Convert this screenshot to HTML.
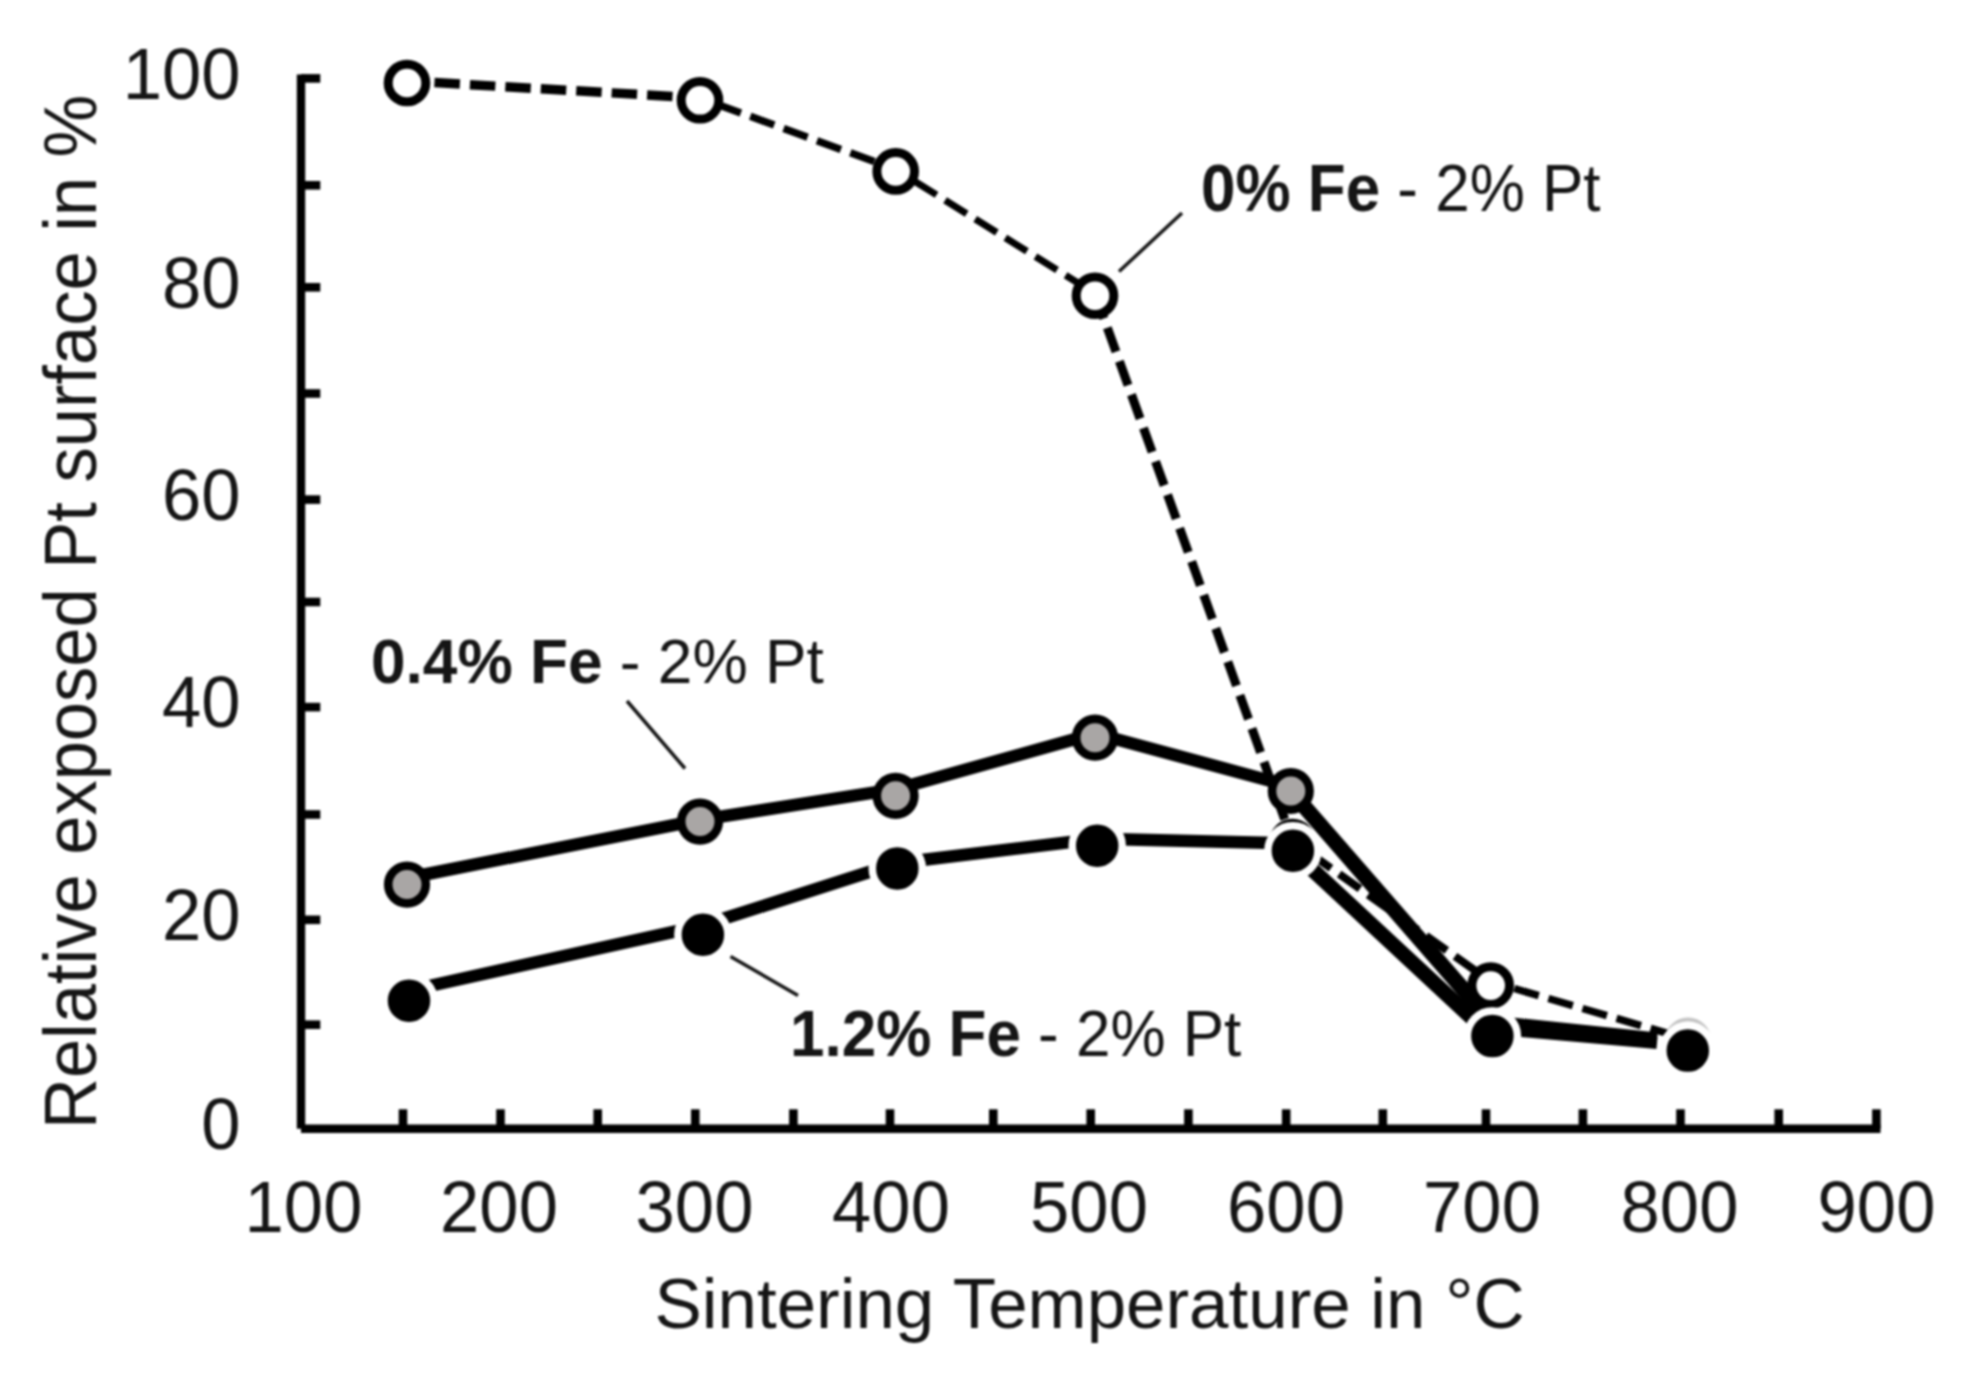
<!DOCTYPE html>
<html lang="en"><head><meta charset="utf-8"><title>Relative exposed Pt surface vs sintering temperature</title>
<style>
html,body{margin:0;padding:0;background:#fff;}
body{width:1961px;height:1374px;overflow:hidden;}
svg{display:block;filter:blur(1px);}
text{font-family:"Liberation Sans",Arial,Helvetica,sans-serif;fill:#151515;}
</style></head><body>
<svg width="1961" height="1374" viewBox="0 0 1961 1374">
<rect width="1961" height="1374" fill="#fff"/>
<g>
<g stroke="#000" stroke-width="8.4" fill="none" stroke-linecap="butt">
<path d="M301.0,74.4 V1128.8"/>
<path d="M301.0,1128.8 H1880.5"/>
</g>
<g stroke="#000" stroke-width="8.6" fill="none" stroke-linecap="butt">
<path d="M301.0,78.4 H320.3"/>
<path d="M301.0,185.3 H320.3"/>
<path d="M301.0,287.3 H320.3"/>
<path d="M301.0,393.5 H320.3"/>
<path d="M301.0,499.6 H320.3"/>
<path d="M301.0,602.0 H320.3"/>
<path d="M301.0,707.1 H320.3"/>
<path d="M301.0,814.5 H320.3"/>
<path d="M301.0,919.8 H320.3"/>
<path d="M301.0,1024.7 H320.3"/>
<path d="M403.0,1128.8 V1109.3"/>
<path d="M500.5,1128.8 V1109.3"/>
<path d="M597.7,1128.8 V1109.3"/>
<path d="M695.3,1128.8 V1109.3"/>
<path d="M793.4,1128.8 V1109.3"/>
<path d="M890.0,1128.8 V1109.3"/>
<path d="M993.3,1128.8 V1109.3"/>
<path d="M1090.7,1128.8 V1109.3"/>
<path d="M1188.4,1128.8 V1109.3"/>
<path d="M1286.2,1128.8 V1109.3"/>
<path d="M1382.8,1128.8 V1109.3"/>
<path d="M1486.0,1128.8 V1109.3"/>
<path d="M1582.9,1128.8 V1109.3"/>
<path d="M1680.5,1128.8 V1109.3"/>
<path d="M1778.7,1128.8 V1109.3"/>
<path d="M1876.4,1128.8 V1109.3"/>
</g>
<g font-size="70.6" text-anchor="end">
<text transform="translate(240.5,98.7) scale(1,1.03)">100</text>
<text transform="translate(240.5,307.6) scale(1,1.03)">80</text>
<text transform="translate(240.5,519.9) scale(1,1.03)">60</text>
<text transform="translate(240.5,727.4) scale(1,1.03)">40</text>
<text transform="translate(240.5,940.1) scale(1,1.03)">20</text>
<text transform="translate(240.5,1149.1) scale(1,1.03)">0</text>
</g>
<g font-size="70.6" text-anchor="middle">
<text transform="translate(303.5,1231.5) scale(1,1.03)">100</text>
<text transform="translate(499.0,1231.5) scale(1,1.03)">200</text>
<text transform="translate(694.5,1231.5) scale(1,1.03)">300</text>
<text transform="translate(891.0,1231.5) scale(1,1.03)">400</text>
<text transform="translate(1089.0,1231.5) scale(1,1.03)">500</text>
<text transform="translate(1286.0,1231.5) scale(1,1.03)">600</text>
<text transform="translate(1482.0,1231.5) scale(1,1.03)">700</text>
<text transform="translate(1679.5,1231.5) scale(1,1.03)">800</text>
<text transform="translate(1876.5,1231.5) scale(1,1.03)">900</text>
</g>
<text font-size="70.9" x="654.5" y="1328">Sintering Temperature in °C</text>
<text font-size="70.5" transform="translate(95.5,1129) rotate(-90) scale(1,1.05)">Relative exposed Pt surface in %</text>
<path d="M407.0,81.0 L700.0,98.0" fill="none" stroke="#000" stroke-width="9.5" stroke-dasharray="25.5 10" stroke-dashoffset="8.00"/>
<path d="M700.0,98.0 L895.7,169.4" fill="none" stroke="#000" stroke-width="7.5" stroke-dasharray="25.5 10" stroke-dashoffset="17.49"/>
<path d="M895.7,169.4 L1095.0,293.7" fill="none" stroke="#000" stroke-width="7" stroke-dasharray="25.5 10" stroke-dashoffset="12.81"/>
<path d="M1095.0,293.7 L1292.5,841.0" fill="none" stroke="#000" stroke-width="9" stroke-dasharray="25.5 10" stroke-dashoffset="34.70"/>
<path d="M1292.5,841.0 L1490.7,981.6" fill="none" stroke="#000" stroke-width="8" stroke-dasharray="25.5 10" stroke-dashoffset="13.80"/>
<path d="M1490.7,981.6 L1687.6,1039.3" fill="none" stroke="#000" stroke-width="7.5" stroke-dasharray="25.5 10" stroke-dashoffset="10.90"/>
<circle cx="407" cy="83" r="18.8" fill="#fff" stroke="#000" stroke-width="9"/>
<circle cx="700" cy="100.3" r="18.8" fill="#fff" stroke="#000" stroke-width="9"/>
<circle cx="895.7" cy="171.4" r="18.8" fill="#fff" stroke="#000" stroke-width="9"/>
<circle cx="1095" cy="295.7" r="18.8" fill="#fff" stroke="#000" stroke-width="9"/>
<circle cx="1292.5" cy="842" r="18.8" fill="#fff" stroke="#000" stroke-width="9"/>
<circle cx="1490.7" cy="985.6" r="18.8" fill="#fff" stroke="#000" stroke-width="9"/>
<polyline points="407.0,878.0 700.0,819.8 895.6,789.2 1095.0,733.5 1290.8,786.4" fill="none" stroke="#000" stroke-width="12.5" stroke-linejoin="round"/>
<polyline points="1290.8,791.0 1492.0,1022.4" fill="none" stroke="#000" stroke-width="15.5"/>
<polyline points="1492.0,1021.6 1657.0,1038.8" fill="none" stroke="#000" stroke-width="12.5"/>
<circle cx="1688" cy="1041" r="21.5" fill="none" stroke="#c4c4c4" stroke-width="4"/>
<circle cx="407" cy="884.6" r="18.8" fill="#a9a6a5" stroke="#000" stroke-width="8.6"/>
<circle cx="700" cy="821.6" r="18.8" fill="#a9a6a5" stroke="#000" stroke-width="8.6"/>
<circle cx="895.6" cy="795.8" r="18.8" fill="#a9a6a5" stroke="#000" stroke-width="8.6"/>
<circle cx="1095" cy="737.7" r="18.8" fill="#a9a6a5" stroke="#000" stroke-width="8.6"/>
<circle cx="1290.8" cy="791" r="18.8" fill="#a9a6a5" stroke="#000" stroke-width="8.6"/>
<polyline points="409.0,990.5 702.9,925.3 897.3,863.0 1097.2,838.8 1292.9,843.5" fill="none" stroke="#000" stroke-width="12.5" stroke-linejoin="round"/>
<polyline points="1292.9,851.5 1492.4,1037.0" fill="none" stroke="#000" stroke-width="15"/>
<polyline points="1492.4,1028.1 1657.0,1042.9" fill="none" stroke="#000" stroke-width="12.5"/>
<circle cx="409" cy="1000.7" r="25" fill="#000" stroke="#fff" stroke-width="7.5"/>
<circle cx="702.9" cy="934.8" r="25" fill="#000" stroke="#fff" stroke-width="7.5"/>
<circle cx="897.3" cy="868.4" r="25" fill="#000" stroke="#fff" stroke-width="7.5"/>
<circle cx="1097.2" cy="845.8" r="25" fill="#000" stroke="#fff" stroke-width="7.5"/>
<circle cx="1292.9" cy="850.8" r="25" fill="#000" stroke="#fff" stroke-width="7.5"/>
<circle cx="1492.4" cy="1036.1" r="25" fill="#000" stroke="#fff" stroke-width="7.5"/>
<circle cx="1687.8" cy="1050.6" r="25" fill="#000" stroke="#fff" stroke-width="7.5"/>
<g stroke="#151515" stroke-width="3.5" fill="none">
<path d="M1119,271.5 L1182,213"/>
<path d="M627,701 L685,768.5"/>
<path d="M730.5,956.5 L798,995.5"/>
</g>
<g font-size="62">
<text transform="translate(1201,210.5) scale(1,1.07)"><tspan font-weight="bold">0% Fe</tspan> - 2% Pt</text>
<text transform="translate(371,683) scale(1.003,1.025)"><tspan font-weight="bold">0.4% Fe</tspan> - 2% Pt</text>
<text transform="translate(790,1055.5) scale(1,1.06)"><tspan font-weight="bold">1.2% Fe</tspan> - 2% Pt</text>
</g>
</g>
</svg></body></html>
